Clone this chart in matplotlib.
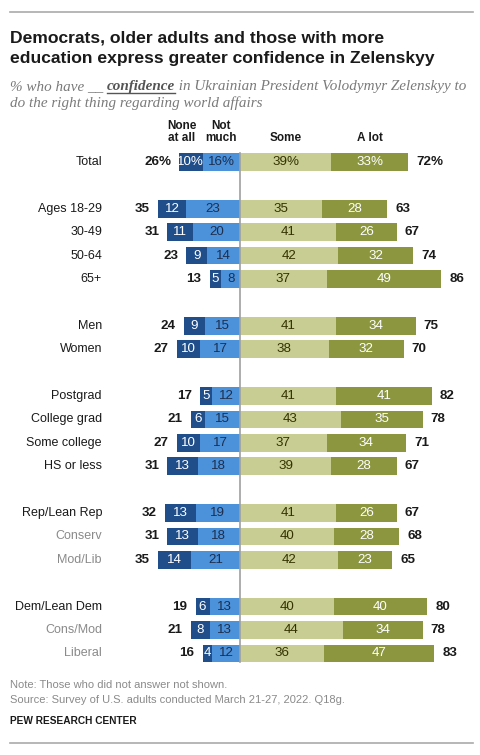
import numpy as np
import matplotlib
matplotlib.use("Agg")
import matplotlib.pyplot as plt
from matplotlib.lines import Line2D

# data
cats = ["Total", "Ages 18-29", "30-49", "50-64", "65+", "Men", "Women",
        "Postgrad", "College grad", "Some college", "HS or less",
        "Rep/Lean Rep", "Conserv", "Mod/Lib",
        "Dem/Lean Dem", "Cons/Mod", "Liberal"]
rows = [0, 2, 3, 4, 5, 7, 8, 10, 11, 12, 13, 15, 16, 17, 19, 20, 21]
subgroups = ["Conserv", "Mod/Lib", "Cons/Mod", "Liberal"]
none_at_all = [10, 12, 11, 9, 5, 9, 10, 5, 6, 10, 13, 13, 13, 14, 6, 8, 4]
not_much = [16, 23, 20, 14, 8, 15, 17, 12, 15, 17, 18, 19, 18, 21, 13, 13, 12]
neg_net = [26, 35, 31, 23, 13, 24, 27, 17, 21, 27, 31, 32, 31, 35, 19, 21, 16]
some = [39, 35, 41, 42, 37, 41, 38, 41, 43, 37, 39, 41, 40, 42, 40, 44, 36]
a_lot = [33, 28, 26, 32, 49, 34, 32, 41, 35, 34, 28, 26, 28, 23, 40, 34, 47]
pos_net = [72, 63, 67, 74, 86, 75, 70, 82, 78, 71, 67, 67, 68, 65, 80, 78, 83]
headers = ["None\nat all", "Not\nmuch", "Some", "A lot"]

c_dblue = "#1f4e8a"
c_lblue = "#4b92db"
c_lgreen = "#c8ce93"
c_dgreen = "#8b963f"
dark = "#1a1a1a"
grey = "#8a8a8a"

W, H = 480, 755
CX, SX = 240, 2.34          # centre pixel, pixels per percent
Y0, SY = 162, 23.4          # first row pixel, pixels per row

fig = plt.figure(figsize=(W / 100, H / 100), dpi=100)
ax = fig.add_axes([0, 0, 1, 1])
ax.set_xlim(-CX / SX, (W - CX) / SX)
ax.set_ylim((H - Y0) / SY, -Y0 / SY)
ax.axis("off")

def fx(x):
    return x / W

def fy(y):
    return 1 - y / H

sans = "Liberation Sans"
serif = "Liberation Serif"

y = np.array(rows, dtype=float)
nm = np.array(not_much)
na = np.array(none_at_all)
so = np.array(some)
al = np.array(a_lot)
bh = 0.76
ax.barh(y, -nm, height=bh, color=c_lblue, lw=0)
ax.barh(y, -na, left=-nm, height=bh, color=c_dblue, lw=0)
ax.barh(y, so, height=bh, color=c_lgreen, lw=0)
ax.barh(y, al, left=so, height=bh, color=c_dgreen, lw=0)
ax.plot([0, 0], [rows[0] - bh / 2, rows[-1] + bh / 2], color="#a0a0a0", lw=1.2)

pad = 8 / SX
fs = 9.6
for i, c in enumerate(cats):
    sfx = "%" if i == 0 else ""
    ax.text(-CX / SX + 102 / SX, y[i], c, ha="right", va="center", fontsize=9,
            family=sans, color=grey if c in subgroups else dark)
    ax.text(-nm[i] - na[i] / 2, y[i], f"{na[i]}{sfx}", ha="center", va="center",
            fontsize=fs, family=sans, color="white")
    ax.text(-nm[i] / 2, y[i], f"{nm[i]}{sfx}", ha="center", va="center",
            fontsize=fs, family=sans, color="#1d2f4f")
    ax.text(so[i] / 2, y[i], f"{so[i]}{sfx}", ha="center", va="center",
            fontsize=fs, family=sans, color="#333300")
    ax.text(so[i] + al[i] / 2, y[i], f"{al[i]}{sfx}", ha="center", va="center",
            fontsize=fs, family=sans, color="white")
    ax.text(-nm[i] - na[i] - pad, y[i], f"{neg_net[i]}{sfx}", ha="right", va="center",
            fontsize=fs, family=sans, weight="bold", color=dark)
    ax.text(so[i] + al[i] + pad, y[i], f"{pos_net[i]}{sfx}", ha="left", va="center",
            fontsize=fs, family=sans, weight="bold", color=dark)

# column headers
hx = [-25, -nm[0] / 2, so[0] / 2, so[0] + al[0] / 2]
for h, x in zip(headers, hx):
    ax.text(x, -0.75, h, ha="center", va="bottom", fontsize=8.5, family=sans,
            weight="bold", color=dark, linespacing=1.05)

# rules
fig.add_artist(Line2D([fx(10), fx(473)], [fy(12), fy(12)], color="#aaaaaa", lw=1.2))
fig.add_artist(Line2D([fx(10), fx(473)], [fy(743), fy(743)], color="#aaaaaa", lw=1.2))

# title
fig.text(fx(10), fy(42.5), "Democrats, older adults and those with more",
         fontsize=12.6, family=sans, weight="bold", color=dark)
fig.text(fx(10), fy(63.5), "education express greater confidence in Zelenskyy",
         fontsize=12.6, family=sans, weight="bold", color=dark)

# subtitle, drawn piece by piece
fig.canvas.draw()
renderer = fig.canvas.get_renderer()
pieces = [("% who have __ ", "normal", "#7a7a7a"),
          ("confidence", "bold", "#555555"),
          (" in Ukrainian President Volodymyr Zelenskyy to", "normal", "#7a7a7a")]
x = 10
for s, wgt, col in pieces:
    t = fig.text(fx(x), fy(90), s, fontsize=10.9, family=serif, style="italic",
                 weight=wgt, color=col)
    bb = t.get_window_extent(renderer)
    if wgt == "bold":
        fig.add_artist(Line2D([fx(x), fx(x + bb.width)], [fy(92.5), fy(92.5)],
                              color="#555555", lw=1))
    x += bb.width
fig.text(fx(10), fy(107), "do the right thing regarding world affairs", fontsize=10.9,
         family=serif, style="italic", color="#7a7a7a")

# notes
fig.text(fx(10), fy(688), "Note: Those who did not answer not shown.", fontsize=8,
         family=sans, color="#8a8a8a")
fig.text(fx(10), fy(703), "Source: Survey of U.S. adults conducted March 21-27, 2022. Q18g.",
         fontsize=8, family=sans, color="#8a8a8a")
fig.text(fx(10), fy(724), "PEW RESEARCH CENTER", fontsize=7.3, family=sans,
         weight="bold", color=dark)

fig.savefig("out.png", dpi=100)
